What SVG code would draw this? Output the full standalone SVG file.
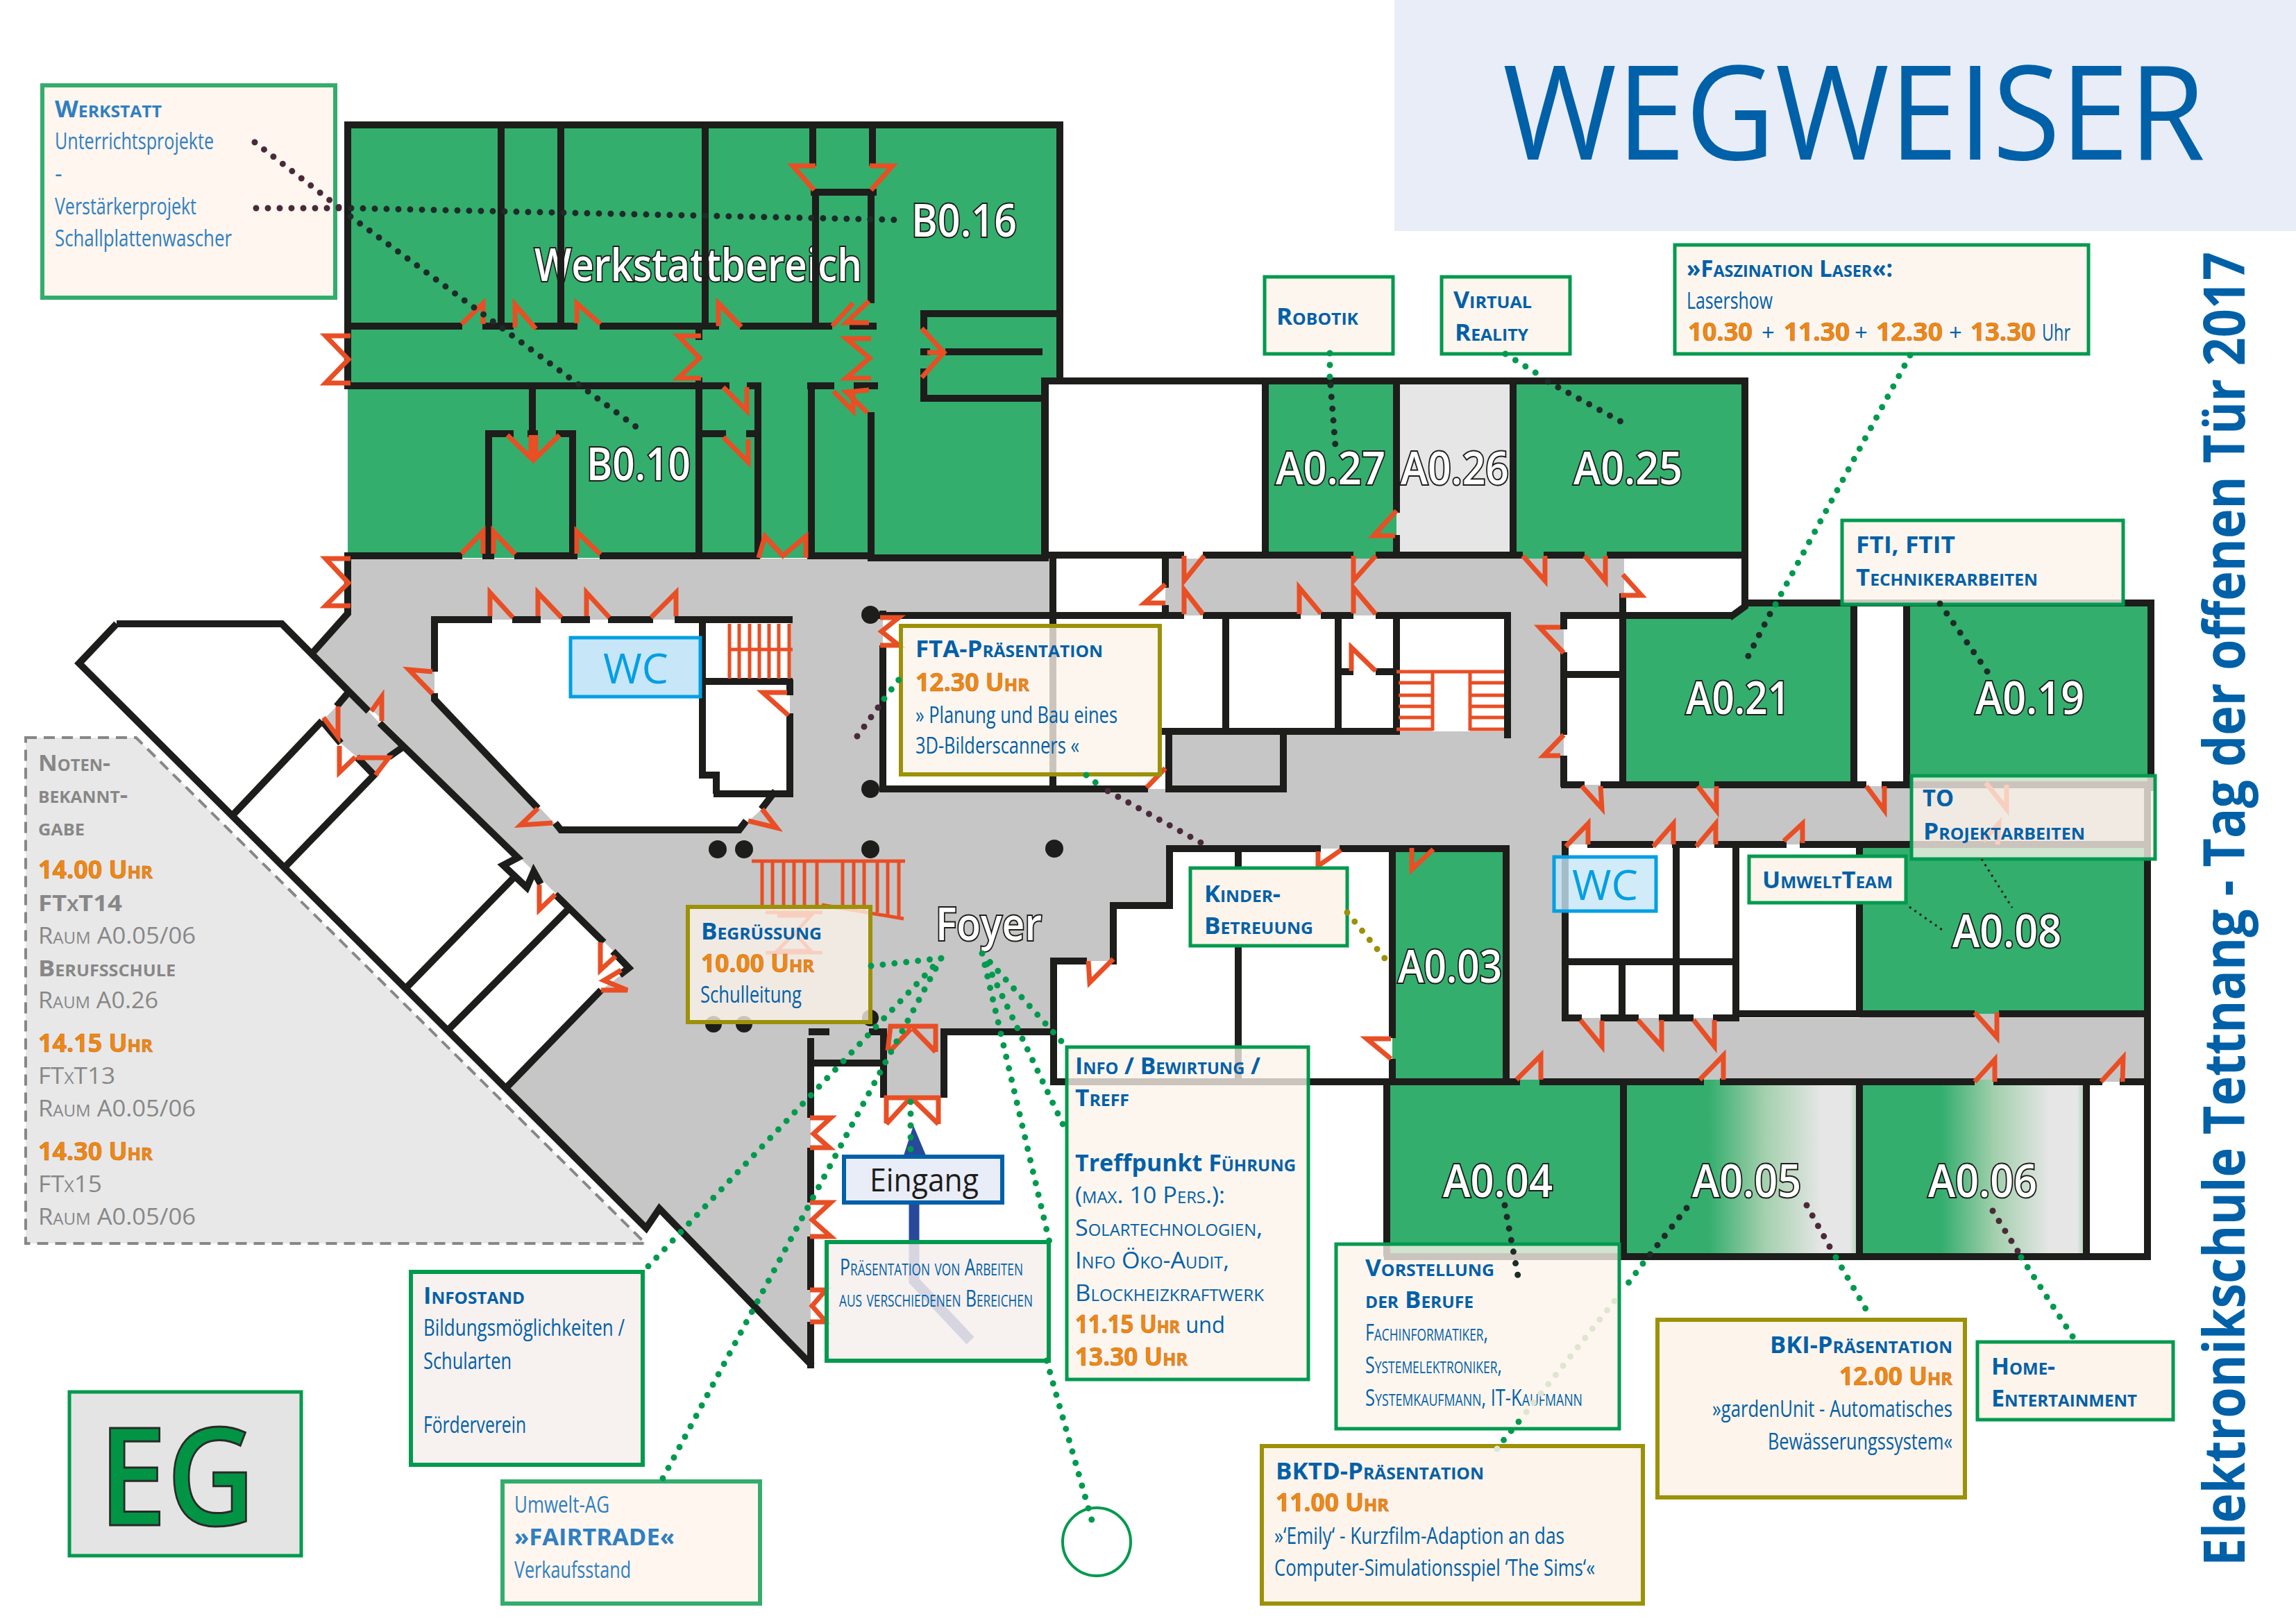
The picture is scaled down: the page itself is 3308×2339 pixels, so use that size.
<svg xmlns="http://www.w3.org/2000/svg" width="3308" height="2339" viewBox="0 0 3308 2339">
<style>
text{font-family:"Open Sans","Noto Sans","Liberation Sans",sans-serif}
.sc{font-variant:small-caps}
.h{font-weight:700;fill:#0060a8;font-size:34px}
.hl{font-weight:700;fill:#2f7fc1;font-size:34px}
.b{font-weight:400;fill:#0060a8;font-size:33px}
.bl{font-weight:400;fill:#2f7fc1;font-size:33px}
.o{font-weight:700;fill:#ee8a12;stroke:#c9601a;stroke-width:.6px;font-size:35px}
.g{font-weight:400;fill:#878787;font-size:33px}
.gb{font-weight:700;fill:#878787;font-size:33px}
.lb{font-size:65px;fill:#fff;stroke:#1d1d1b;stroke-width:4px;paint-order:stroke;font-weight:600}
.wc{font-size:60px;fill:#009fe3}
.wall{fill:none;stroke:#1d1d1b;stroke-width:10}
.door{fill:none;stroke:#e94e24;stroke-width:7}
.st{fill:none;stroke:#e94e24;stroke-width:5}
.box{fill:#fdf4eb;fill-opacity:.78;stroke:#009a4e;stroke-width:5}
.boxo{fill:#fdf4eb;fill-opacity:.78;stroke:#9c9107;stroke-width:6}
.boxl{fill:#fef6ef;stroke:#33ad6c;stroke-width:6}
.boxp{fill:#f6eeec;fill-opacity:.85;stroke:#009a4e;stroke-width:6}
.green{fill:#33ae6d}
.grey{fill:#c6c6c6}
.white{fill:#fff}
.dot{fill:none;stroke-width:9;stroke-linecap:round;stroke-dasharray:0 17}
.dg{stroke:#009a4e}
.dd{stroke:#1f2b28}
.dp{stroke:#4a2a3a}
.dy{stroke:#9c9107}
.dl{stroke:#dfe5d0}
.pil{fill:#1d1d1b}
</style>
<defs>
<linearGradient id="fade" x1="0" x2="1" y1="0" y2="0">
<stop offset="0" stop-color="#33ae6d"/><stop offset=".36" stop-color="#33ae6d"/><stop offset=".6" stop-color="#a4d0ae"/><stop offset=".84" stop-color="#e6e6e6"/><stop offset=".96" stop-color="#e6e6e6"/><stop offset="1" stop-color="#9fcaa9"/>
</linearGradient>
</defs>
<rect width="3308" height="2339" fill="#fff"/>
<g id="title">
<rect x="2009" y="0" width="1299" height="333" fill="#e8edf7"/>
<text x="2165" y="230" font-size="189" font-weight="500" fill="#0060a8" textLength="1012" lengthAdjust="spacingAndGlyphs">WEGWEISER</text>
</g>
<g id="sidetitle">
<text transform="translate(3234,2257) rotate(-90)" font-size="83" font-weight="700" fill="#0060a8" textLength="1894" lengthAdjust="spacingAndGlyphs">Elektronikschule Tettnang - Tag der offenen Tür 2017</text>
</g>
<g id="floor">
<path class="grey" d="M506,805H2340V1133H3094V1560H1518V1487H1360V1582H1273V1532H1168V1966L950,1742L931,1770L729,1567L866,1427L908,1395L452,939L501,884Z"/>
<path class="grey" d="M501,999L531,1025L547,1042L580,1077L560,1091L539,1117L514,1091L491,1071L464,1039L485,1018Z"/>
<path class="white" d="M626,893H1138V1148H1117L1065,1196H808L626,1005Z"/>
<path class="white" d="M1272,887H2172V1054H1684V1137H1272Z"/>
<rect class="white" x="1517" y="804" width="162" height="83"/>
<rect class="white" x="2253" y="887" width="85" height="244"/>
<path class="white" d="M2340,805H2514V870L2492,887H2340Z"/>
<rect class="white" x="2255" y="1217" width="424" height="250"/>
<path class="white" d="M1518,1385H1604V1305H1685V1223H2006V1559H1518Z"/>
<rect class="white" x="2671" y="869" width="76" height="262"/>
<rect class="white" x="3006" y="1559" width="88" height="252"/>
</g>
<g id="room-werkstattbereich">
<path class="green" d="M501,180H1527V550H1506V804H501Z"/>
<text class="lb" x="770" y="405" textLength="472" lengthAdjust="spacingAndGlyphs">Werkstattbereich</text>
</g>
<g id="room-B016"><text class="lb" x="1313" y="341" textLength="152" lengthAdjust="spacingAndGlyphs">B0.16</text></g>
<g id="room-B010"><text class="lb" x="845" y="692" textLength="150" lengthAdjust="spacingAndGlyphs">B0.10</text></g>
<g id="room-A027"><rect class="green" x="1823" y="549" width="189" height="256"/><text class="lb" x="1838" y="698" textLength="158" lengthAdjust="spacingAndGlyphs">A0.27</text></g>
<g id="room-A026"><rect fill="#e6e6e6" x="2012" y="549" width="168" height="251"/><text class="lb" x="2018" y="698" textLength="156" lengthAdjust="spacingAndGlyphs">A0.26</text></g>
<g id="room-A025"><rect class="green" x="2180" y="549" width="334" height="256"/><text class="lb" x="2267" y="698" textLength="157" lengthAdjust="spacingAndGlyphs">A0.25</text></g>
<g id="room-A021"><path class="green" d="M2338,887H2492L2514,869H2671V1136H2338Z"/><text class="lb" x="2429" y="1029" textLength="150" lengthAdjust="spacingAndGlyphs">A0.21</text></g>
<g id="room-A019"><rect class="green" x="2747" y="869" width="352" height="262"/><text class="lb" x="2846" y="1029" textLength="157" lengthAdjust="spacingAndGlyphs">A0.19</text></g>
<g id="room-A008"><rect class="green" x="2679" y="1217" width="415" height="244"/><text class="lb" x="2813" y="1365" textLength="157" lengthAdjust="spacingAndGlyphs">A0.08</text></g>
<g id="room-A003"><rect class="green" x="2006" y="1223" width="164" height="336"/><text class="lb" x="2014" y="1416" textLength="150" lengthAdjust="spacingAndGlyphs">A0.03</text></g>
<g id="room-A004"><rect class="green" x="1998" y="1556" width="341" height="255"/><text class="lb" x="2079" y="1725" textLength="158" lengthAdjust="spacingAndGlyphs">A0.04</text></g>
<g id="room-A005"><rect fill="url(#fade)" x="2339" y="1556" width="340" height="255"/><text class="lb" x="2438" y="1725" textLength="157" lengthAdjust="spacingAndGlyphs">A0.05</text></g>
<g id="room-A006"><rect fill="url(#fade)" x="2679" y="1556" width="327" height="255"/><text class="lb" x="2778" y="1725" textLength="157" lengthAdjust="spacingAndGlyphs">A0.06</text></g>
<g id="walls">
<path class="wall" d="M496,180H1532M501,175V552M501,805V884L452,939M722,180V470M808,180V470M1016,180V470M1171,180V239M1257,180V239M1168,277H1263M1175,277V470M1255,277V437M1527,180V553"/>
<path class="wall" d="M496,470H666M695,470H740M770,470H832M864,470H1036M1066,470H1199M1224,470H1263M1326,452H1532M1331,447V475M1331,531V579M1326,574H1511M1326,507H1340M1362,507H1502"/>
<path class="wall" d="M496,556H1051M1076,556H1097M1163,556H1202M1230,556H1265M1007,470V490M1007,544V800M1092,556V800M1169,556V800M1255,594V809M767,556V625M699,625H740M760,625H775M801,625H830M1010,625H1046M1075,625H1092M704,620V800M825,620V800"/>
<path class="wall" d="M496,801H666M695,801H712M741,801H832M864,801H1095M1163,801H1260M1255,804H1511M1506,545V809"/>
<path class="wall" d="M1500,549H2519M1505,549V804M1823,549V800M2012,549V739M2012,771V800M2180,549V800M2514,549V874L2492,890"/>
<path class="wall" d="M1500,800H1706M1733,800H1950M1982,800H2194M2224,800H2283M2315,800H2519M1679,804V847M1679,872V890M1517,800V1137"/>
<path class="wall" d="M1265,887H1706M1733,887H1874M1903,887H1950M1982,887H2177M2248,887H2497M2172,887V1064M1766,887V1053M1928,887V1053M2012,887V1059M1928,968H1950M1982,968H2012M1673,1054H2012"/>
<path class="wall" d="M1684,1054V1142M1849,1054V1142M1680,1137H1854M1272,1137H1654M2253,888V907M2253,940V1059M2253,1089V1134M2248,972H2340M2338,855V1136"/>
<path class="wall" d="M2510,869H3104M2671,869V1131M2747,869V1131M3099,864V1140M2249,1131H2283M2306,1131H2448M2470,1131H2689M2711,1131H3104"/>
<path class="wall" d="M2252,1217H2257M2287,1217H2382M2409,1217H2444M2470,1217H2574M2593,1217H3094M2255,1212V1472M2415,1217V1467M2501,1217V1472M2679,1217V1461M2255,1386H2501M2337,1386V1467M2252,1467H2279M2306,1467H2361M2390,1467H2440M2468,1467H2505M2505,1461H2845M2880,1461H3094M3094,1131V1816"/>
<path class="wall" d="M1518,1559H2190M2218,1559H2455M2478,1559H2845M2872,1559H3029M3054,1559H3099M1994,1811H3099M1998,1559V1811M2339,1559V1811M2679,1559V1811M3006,1559V1811M2170,1218V1559M2006,1218V1496M2006,1526V1559M1784,1223V1559M1681,1223H1903M1930,1223H2175M1685,1218V1310M1600,1305H1690M1604,1300V1390M1513,1385H1566M1518,1380V1564"/>
<path class="wall" d="M1360,1482V1582M1273,1482V1582M1252,1487H1275M1356,1487H1518M1165,1487H1195M1168,1496V1611M1168,1654V1733M1168,1782V1859M1168,1905V1972M1168,1532H1273"/>
<path class="wall" d="M168,899H406L531,1025M168,899L114,956L931,1770L950,1742L1170,1968M547,1042L746,1236L725,1247L759,1279L769,1256L779,1274M800,1289L870,1358M883,1371L906,1395L893,1405M866,1427L729,1568M501,999L485,1018M464,1039L336,1174M464,1039L491,1071M580,1077L560,1091M514,1091L539,1117L410,1250M739,1266L584,1425M817,1312L645,1485"/>
<path class="wall" d="M622,893H709M738,893H779M808,893H850M876,893H941M972,893H1142M626,888V968M626,999V1008L775,1165M800,1186L808,1196H1065L1075,1183M1097,1166L1117,1140M1138,979V1002M1138,1028V1149M1028,1144H1142M1032,1144V1117M1007,1117H1037M1012,888V1122M1007,982H1142"/>
<path class="wall" d="M1272,880V890M1272,930V1142M1268,1137H1300"/>
</g>
<g id="stairs">
<path class="st" d="M1051,899V978M1065,899V978M1080,899V978M1094,899V978M1108,899V978M1122,899V978M1137,899V978M1049,936H1142"/>
<path class="st" d="M2012,968H2167M2015,984H2064M2015,1002H2064M2015,1018H2064M2015,1034H2064M2012,1051H2064M2118,984H2167M2118,1002H2167M2118,1018H2167M2118,1034H2167M2118,1051H2167M2064,968V1053M2118,968V1053"/>
<path class="st" d="M1083,1241H1304M1098,1241V1310M1113,1241V1310M1129,1241V1310M1144,1241V1310M1159,1241V1310M1177,1241V1310M1214,1241V1306M1230,1241V1308M1245,1241V1312M1264,1241V1315M1279,1241V1318M1295,1241V1322M1184,1304L1302,1324"/>
<path class="st" d="M1103,1315H1185M1120,1320H1168L1145,1345L1168,1370H1120L1145,1345M1103,1373H1185"/>
</g>
<g id="pillars">
<circle class="pil" cx="1254" cy="886" r="13"/><circle class="pil" cx="1254" cy="1137" r="13"/><circle class="pil" cx="1034" cy="1224" r="13"/><circle class="pil" cx="1072" cy="1224" r="13"/><circle class="pil" cx="1254" cy="1224" r="13"/><circle class="pil" cx="1519" cy="1223" r="13"/><circle class="pil" cx="1028" cy="1476" r="12"/><circle class="pil" cx="1072" cy="1476" r="12"/><circle class="pil" cx="1254" cy="1467" r="12"/>
</g>
<g id="doors">
<path class="door" d="M1175,239H1142L1173,274M1253,239H1286L1255,274M505,484H469L502,518L469,552H505M505,805H469L502,840L469,873H505"/>
<path class="door" d="M665,467L696,437V467M742,472V439L772,474M831,466V437L865,467M1035,470V437L1068,471M1199,470L1229,437M1252,434L1219,465H1252M1010,484H977L1008,516L977,545H1010M1255,488H1219L1253,516L1219,545H1255M1328,473L1360,508L1328,544M1336,508H1360"/>
<path class="door" d="M1042,558L1076,592V558M1201,564L1229,592V562M1252,562L1219,565L1250,595M731,627L765,660V627M806,627L772,660V627M1042,630L1078,666V633"/>
<path class="door" d="M665,798L696,766V798M711,798V766L742,799M831,798V766L865,799M1093,804L1102,773L1128,801L1161,773V804M706,888V854L739,890M775,888V854L809,890M845,888V854L878,890M938,890L974,854V888"/>
<path class="door" d="M623,968L589,965L623,1000M1134,998H1099L1136,1031M796,1186L750,1189L775,1165M1078,1183L1119,1193L1098,1166M535,1025L550,1004V1039M487,1018V1062L466,1034M489,1075V1113L512,1091M514,1092H560L541,1117M777,1275V1311L800,1289M865,1358V1398L887,1378M895,1398L870,1413L904,1427H866"/>
<path class="door" d="M1268,890H1295L1270,910L1295,930H1268"/>
<path class="door" d="M1706,801V837L1735,801M1950,801V837L1982,801M2194,801L2226,837V801M2283,801L2313,837V801M2338,828L2365,858H2335M1679,842L1649,869H1679M1706,885V850L1733,885M1872,885V847L1903,884M1950,884V847L1982,885M2012,736L1979,772H2010M1947,967V933L1982,967M2248,904H2218L2253,941M2253,1059L2224,1089H2248M1679,1107L1652,1135"/>
<path class="door" d="M2279,1133L2308,1165L2306,1133M2446,1133L2473,1168V1133M2689,1133L2715,1168V1133M2256,1220L2288,1187V1217M2382,1220L2411,1187V1217M2444,1220L2472,1187V1217M2570,1212L2597,1187V1215M2034,1222V1253L2065,1224M2277,1470L2308,1508V1471M2360,1470L2394,1508V1470M2440,1470L2470,1508V1470M2845,1459L2877,1495V1459"/>
<path class="door" d="M2861,1128L2891,1166V1131M2857,1212L2880,1187L2878,1217"/>
<path class="door" d="M2185,1556L2220,1521V1556M2449,1556L2483,1521V1556M2845,1559L2874,1527V1559M3027,1559L3059,1524L3058,1559M1932,1225L1899,1248V1227M1604,1382L1570,1416L1568,1385M2004,1497H1969L2004,1526"/>
<path class="door" d="M1279,1514L1283,1479H1348V1516M1283,1514L1312,1483M1315,1482L1348,1516M1277,1619V1582H1352V1620M1277,1620L1310,1584M1315,1584L1352,1620M1167,1611H1197L1172,1634L1195,1654H1167M1167,1733H1197L1170,1758L1197,1782H1167M1167,1859H1190L1170,1882L1190,1905H1167"/>
</g>
<g id="entrance-arrow">
<path d="M1316,1622L1302,1665H1334Z" fill="#28499a"/>
<path d="M1317,1733V1846L1398,1932" fill="none" stroke="#28499a" stroke-width="15"/>
</g>
<g id="noten">
<path d="M37,1063H196L930,1792H37Z" fill="#e8e8e8" stroke="#878787" stroke-width="4" stroke-dasharray="16 10"/>
<text class="gb sc" x="55" y="1111" textLength="104" lengthAdjust="spacingAndGlyphs">Noten-</text>
<text class="gb sc" x="55" y="1157" textLength="129" lengthAdjust="spacingAndGlyphs">bekannt-</text>
<text class="gb sc" x="55" y="1204" textLength="67" lengthAdjust="spacingAndGlyphs">gabe</text>
<text class="o sc" x="55" y="1266" textLength="165" lengthAdjust="spacingAndGlyphs">14.00 Uhr</text>
<text class="gb sc" x="55" y="1313" textLength="121" lengthAdjust="spacingAndGlyphs">FTxT14</text>
<text class="g sc" x="55" y="1360" textLength="227" lengthAdjust="spacingAndGlyphs">Raum A0.05/06</text>
<text class="gb sc" x="55" y="1407" textLength="198" lengthAdjust="spacingAndGlyphs">Berufsschule</text>
<text class="g sc" x="55" y="1453" textLength="173" lengthAdjust="spacingAndGlyphs">Raum A0.26</text>
<text class="o sc" x="55" y="1516" textLength="165" lengthAdjust="spacingAndGlyphs">14.15 Uhr</text>
<text class="g sc" x="55" y="1562" textLength="111" lengthAdjust="spacingAndGlyphs">FTxT13</text>
<text class="g sc" x="55" y="1609" textLength="227" lengthAdjust="spacingAndGlyphs">Raum A0.05/06</text>
<text class="o sc" x="55" y="1672" textLength="165" lengthAdjust="spacingAndGlyphs">14.30 Uhr</text>
<text class="g sc" x="55" y="1718" textLength="92" lengthAdjust="spacingAndGlyphs">FTx15</text>
<text class="g sc" x="55" y="1765" textLength="227" lengthAdjust="spacingAndGlyphs">Raum A0.05/06</text>
</g>
<g id="werkstatt">
<rect class="boxl" x="61" y="123" width="422" height="306"/>
<text class="hl sc" x="79" y="169" textLength="154" lengthAdjust="spacingAndGlyphs">Werkstatt</text>
<text class="bl" x="79" y="215" textLength="229" lengthAdjust="spacingAndGlyphs">Unterrichtsprojekte</text>
<text class="bl" x="79" y="262">-</text>
<text class="bl" x="79" y="309" textLength="204" lengthAdjust="spacingAndGlyphs">Verstärkerprojekt</text>
<text class="bl" x="79" y="355" textLength="255" lengthAdjust="spacingAndGlyphs">Schallplattenwascher</text>
</g>
<g id="robotik">
<rect class="box" x="1822" y="399" width="185" height="111"/>
<text class="h sc" x="1839" y="468" textLength="118" lengthAdjust="spacingAndGlyphs">Robotik</text>
</g>
<g id="virtual-reality">
<rect class="box" x="2077" y="399" width="185" height="111"/>
<text class="h sc" x="2094" y="444" textLength="113" lengthAdjust="spacingAndGlyphs">Virtual</text>
<text class="h sc" x="2096" y="491" textLength="106" lengthAdjust="spacingAndGlyphs">Reality</text>
</g>
<g id="laser">
<rect class="box" x="2413" y="353" width="596" height="157"/>
<text class="h sc" x="2430" y="399" textLength="297" lengthAdjust="spacingAndGlyphs">»Faszination Laser«:</text>
<text class="b" x="2430" y="445" textLength="124" lengthAdjust="spacingAndGlyphs">Lasershow</text>
<text class="o" x="2432" y="491" textLength="93" lengthAdjust="spacingAndGlyphs">10.30</text>
<text class="b" x="2538" y="491">+</text>
<text class="o" x="2570" y="491" textLength="95" lengthAdjust="spacingAndGlyphs">11.30</text>
<text class="b" x="2672" y="491">+</text>
<text class="o" x="2703" y="491" textLength="96" lengthAdjust="spacingAndGlyphs">12.30</text>
<text class="b" x="2808" y="491">+</text>
<text class="o" x="2839" y="491" textLength="94" lengthAdjust="spacingAndGlyphs">13.30</text>
<text class="b" x="2942" y="491" textLength="41" lengthAdjust="spacingAndGlyphs">Uhr</text>
</g>
<g id="fti">
<rect class="box" x="2654" y="750" width="405" height="121"/>
<text class="h" x="2674" y="797" textLength="143" lengthAdjust="spacingAndGlyphs">FTI, FTIT</text>
<text class="h sc" x="2674" y="844" textLength="262" lengthAdjust="spacingAndGlyphs">Technikerarbeiten</text>
</g>
<g id="fta">
<rect class="boxo" x="1298" y="902" width="373" height="214"/>
<text class="h sc" x="1319" y="947" textLength="270" lengthAdjust="spacingAndGlyphs">FTA-Präsentation</text>
<text class="o sc" x="1319" y="996" textLength="164" lengthAdjust="spacingAndGlyphs">12.30 Uhr</text>
<text class="b" x="1319" y="1042" textLength="291" lengthAdjust="spacingAndGlyphs">» Planung und Bau eines</text>
<text class="b" x="1319" y="1086" textLength="236" lengthAdjust="spacingAndGlyphs">3D-Bilderscanners «</text>
</g>
<g id="wc1">
<rect x="822" y="919" width="187" height="85" fill="#c7e6f7" stroke="#009fe3" stroke-width="5"/>
<text class="wc" x="869" y="985" textLength="94" lengthAdjust="spacingAndGlyphs">WC</text>
</g>
<g id="wc2">
<rect x="2239" y="1235" width="147" height="78" fill="#c7e6f7" fill-opacity=".8" stroke="#009fe3" stroke-width="5"/>
<text class="wc" x="2265" y="1297" textLength="95" lengthAdjust="spacingAndGlyphs">WC</text>
</g>
<g id="to-projekt">
<rect class="box" x="2754" y="1118" width="351" height="120"/>
<text class="h" x="2770" y="1162" textLength="45" lengthAdjust="spacingAndGlyphs">TO</text>
<text class="h sc" x="2771" y="1210" textLength="233" lengthAdjust="spacingAndGlyphs">Projektarbeiten</text>
</g>
<g id="umwelt-team">
<rect class="box" style="fill-opacity:1" x="2520" y="1234" width="226" height="67"/>
<text class="h sc" x="2539" y="1280" textLength="188" lengthAdjust="spacingAndGlyphs">UmweltTeam</text>
</g>
<g id="kinder">
<rect class="box" style="fill-opacity:1" x="1715" y="1251" width="226" height="112"/>
<text class="h sc" x="1735" y="1300" textLength="110" lengthAdjust="spacingAndGlyphs">Kinder-</text>
<text class="h sc" x="1735" y="1346" textLength="157" lengthAdjust="spacingAndGlyphs">Betreuung</text>
</g>
<g id="begruessung">
<rect class="boxo" x="991" y="1307" width="263" height="166"/>
<text class="h sc" x="1010" y="1354" textLength="174" lengthAdjust="spacingAndGlyphs">Begrüssung</text>
<text class="o sc" x="1010" y="1401" textLength="163" lengthAdjust="spacingAndGlyphs">10.00 Uhr</text>
<text class="b" x="1009" y="1445" textLength="146" lengthAdjust="spacingAndGlyphs">Schulleitung</text>
</g>
<g id="foyer"><text class="lb" x="1348" y="1355" textLength="153" lengthAdjust="spacingAndGlyphs">Foyer</text></g>
<g id="eingang">
<rect x="1216" y="1667" width="228" height="66" fill="#e9edf7" stroke="#0060a8" stroke-width="6"/>
<text x="1253" y="1717" font-size="46" fill="#1d1d1b" textLength="157" lengthAdjust="spacingAndGlyphs">Eingang</text>
</g>
<g id="praesentation">
<rect class="boxp" x="1191" y="1790" width="320" height="171"/>
<text class="b sc" x="1210" y="1838" textLength="264" lengthAdjust="spacingAndGlyphs">Präsentation von Arbeiten</text>
<text class="b sc" x="1209" y="1883" textLength="279" lengthAdjust="spacingAndGlyphs">aus verschiedenen Bereichen</text>
</g>
<g id="info">
<rect class="box" x="1537" y="1509" width="348" height="479"/>
<text class="h sc" x="1549" y="1548" textLength="267" lengthAdjust="spacingAndGlyphs">Info / Bewirtung /</text>
<text class="h sc" x="1549" y="1594" textLength="78" lengthAdjust="spacingAndGlyphs">Treff</text>
<text class="h" x="1549" y="1688" textLength="318" lengthAdjust="spacingAndGlyphs">Treffpunkt <tspan class="sc">Führung</tspan></text>
<text class="b sc" x="1549" y="1734" textLength="216" lengthAdjust="spacingAndGlyphs">(max. 10 Pers.):</text>
<text class="b sc" x="1549" y="1781" textLength="270" lengthAdjust="spacingAndGlyphs">Solartechnologien,</text>
<text class="b sc" x="1549" y="1828" textLength="222" lengthAdjust="spacingAndGlyphs">Info Öko-Audit,</text>
<text class="b sc" x="1549" y="1875" textLength="272" lengthAdjust="spacingAndGlyphs">Blockheizkraftwerk</text>
<text x="1549" y="1921" textLength="216" lengthAdjust="spacingAndGlyphs"><tspan class="o sc">11.15 Uhr</tspan><tspan class="b"> und</tspan></text>
<text class="o sc" x="1549" y="1968" textLength="162" lengthAdjust="spacingAndGlyphs">13.30 Uhr</text>
</g>
<g id="infostand">
<rect class="boxp" x="592" y="1833" width="334" height="278"/>
<text class="h sc" x="610" y="1879" textLength="146" lengthAdjust="spacingAndGlyphs">Infostand</text>
<text class="b" x="610" y="1925" textLength="290" lengthAdjust="spacingAndGlyphs">Bildungsmöglichkeiten /</text>
<text class="b" x="610" y="1973" textLength="127" lengthAdjust="spacingAndGlyphs">Schularten</text>
<text class="b" x="610" y="2065" textLength="148" lengthAdjust="spacingAndGlyphs">Förderverein</text>
</g>
<g id="umwelt-ag">
<rect class="boxl" x="724" y="2135" width="371" height="176"/>
<text class="bl" x="741" y="2180" textLength="137" lengthAdjust="spacingAndGlyphs">Umwelt-AG</text>
<text class="hl" x="741" y="2227" textLength="231" lengthAdjust="spacingAndGlyphs">»FAIRTRADE«</text>
<text class="bl" x="741" y="2274" textLength="168" lengthAdjust="spacingAndGlyphs">Verkaufsstand</text>
</g>
<g id="vorstellung">
<rect class="box" x="1925" y="1793" width="408" height="266"/>
<text class="h sc" x="1967" y="1839" textLength="186" lengthAdjust="spacingAndGlyphs">Vorstellung</text>
<text class="h sc" x="1967" y="1885" textLength="156" lengthAdjust="spacingAndGlyphs">der Berufe</text>
<text class="b sc" x="1967" y="1932" textLength="177" lengthAdjust="spacingAndGlyphs">Fachinformatiker,</text>
<text class="b sc" x="1967" y="1979" textLength="197" lengthAdjust="spacingAndGlyphs">Systemelektroniker,</text>
<text class="b sc" x="1967" y="2026" textLength="313" lengthAdjust="spacingAndGlyphs">Systemkaufmann, IT-Kaufmann</text>
</g>
<g id="bktd">
<rect class="boxo" style="fill-opacity:1" x="1818" y="2084" width="549" height="227"/>
<text class="h sc" x="1838" y="2132" textLength="300" lengthAdjust="spacingAndGlyphs">BKTD-Präsentation</text>
<text class="o sc" x="1838" y="2178" textLength="163" lengthAdjust="spacingAndGlyphs">11.00 Uhr</text>
<text class="b" x="1836" y="2225" textLength="418" lengthAdjust="spacingAndGlyphs">»‘Emily‘ - Kurzfilm-Adaption an das</text>
<text class="b" x="1836" y="2271" textLength="462" lengthAdjust="spacingAndGlyphs">Computer-Simulationsspiel ‘The Sims‘«</text>
</g>
<g id="bki">
<rect class="boxo" style="fill-opacity:1" x="2388" y="1902" width="443" height="256"/>
<text class="h sc" x="2550" y="1950" textLength="263" lengthAdjust="spacingAndGlyphs">BKI-Präsentation</text>
<text class="o sc" x="2650" y="1996" textLength="163" lengthAdjust="spacingAndGlyphs">12.00 Uhr</text>
<text class="b" x="2467" y="2042" textLength="346" lengthAdjust="spacingAndGlyphs">»gardenUnit - Automatisches</text>
<text class="b" x="2547" y="2089" textLength="266" lengthAdjust="spacingAndGlyphs">Bewässerungssystem«</text>
</g>
<g id="home">
<rect class="box" style="fill-opacity:1" x="2849" y="1934" width="282" height="112"/>
<text class="h sc" x="2869" y="1981" textLength="92" lengthAdjust="spacingAndGlyphs">Home-</text>
<text class="h sc" x="2869" y="2027" textLength="210" lengthAdjust="spacingAndGlyphs">Entertainment</text>
</g>
<g id="geschoss">
<rect x="100" y="2006" width="334" height="236" fill="#e4e4e4" stroke="#009a4e" stroke-width="5"/>
<text x="142" y="2198" font-size="196" font-weight="600" fill="#009444" stroke="#2a2a28" stroke-width="3" textLength="226" lengthAdjust="spacingAndGlyphs">EG</text>
</g>
<g id="stand-circle"><circle cx="1580" cy="2222" r="49" fill="none" stroke="#009a4e" stroke-width="4"/></g>
<g id="connectors">
<path class="dot dp" d="M367,205L490,300M369,300H490"/>
<path class="dot dd" d="M506,300L1301,317M505,312L923,620"/>
<path class="dot dg" d="M1916,509V549M2169,510L2225,545M2752,512L2556,875"/>
<path class="dot dd" d="M1917,555L1924,643M2230,550L2349,615M2550,885L2517,949M2795,870L2864,969"/>
<path class="dot dd" d="M2168,1737L2187,1839M2430,1741L2367,1821"/>
<path class="dot dg" d="M2367,1821L2337,1861"/>
<path class="dot dl" d="M2326,1875L2195,2040M2157,2088V2089"/>
<path class="dot dg" d="M2188,2049L2166,2076"/>
<path class="dot dp" d="M2603,1737L2639,1802M2871,1745L2907,1803"/>
<path class="dot dg" d="M2645,1812L2696,1900M2912,1812L2988,1929"/>
<path class="dot dp" d="M1235,1061L1272,1010M1596,1140L1744,1222"/>
<path class="dot dg" d="M1274,1007L1297,977M1565,1117L1590,1137"/>
<path class="dot dy" d="M1941,1315L2004,1392"/>
<path class="dot dg" d="M1255,1392L1356,1381L931,1828M1356,1381L953,2134M1415,1374L1535,1507M1415,1374L1535,1628M1415,1374L1512,1790M1508,1961L1577,2205M1312,1588V1665"/>
<path fill="none" stroke="#1d1d1b" stroke-width="3" stroke-dasharray="3 6" d="M2855,1238L2899,1308M2751,1307L2801,1342"/>
</g>
</svg>
